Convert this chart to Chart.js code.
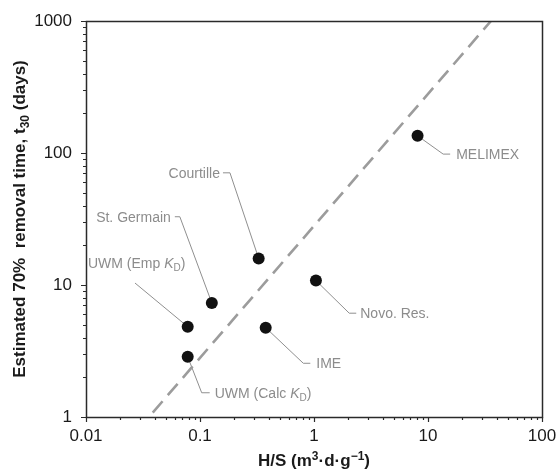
<!DOCTYPE html>
<html>
<head>
<meta charset="utf-8">
<script src="https://cdn.jsdelivr.net/npm/chart.js@4.4.1/dist/chart.umd.min.js"></script>
<style>
  html, body { margin: 0; padding: 0; background: #ffffff; }
  #wrap { position: relative; width: 557px; height: 472px; }
</style>
</head>
<body>
<div id="wrap"><canvas id="c"></canvas></div>
<script>
// ---------------- data ----------------
const siteNames  = ['UWM (Emp KD)', 'UWM (Calc KD)', 'St. Germain', 'Courtille', 'IME', 'Novo. Res.', 'MELIMEX'];
const hsValues   = [0.078, 0.078, 0.127, 0.327, 0.377, 1.04, 8.1];
const t30Values  = [4.83, 2.86, 7.3, 15.9, 4.75, 10.8, 135];
const trendX     = [0.0385, 35.7];
const trendY     = [1.08, 1000];
const xMajorTicks = [0.01, 0.1, 1, 10, 100];
const xTickLabels = ['0.01', '0.1', '1', '10', '100'];
const yMajorTicks = [1, 10, 100, 1000];
const yTickLabels = ['1', '10', '100', '1000'];

// ---------------- styles / layout ----------------
const FONT = '"Liberation Sans", Arial, Helvetica, sans-serif';
const GREY_TXT = '#8c8c8c';
const AXIS_COL = '#2a2a2a';

// leader-line layout in pixels relative to each point
const labelLayout = {
  'UWM (Emp KD)':  { elbow: [-52.7, -43.7], hook: 0, text: [-47, -20], align: 'left' },
  'UWM (Calc KD)': { elbow: [14, 36],       hook: 8,  gap: 5 },
  'St. Germain':   { elbow: [-32, -86.3],   hook: -5, gap: 4 },
  'Courtille':     { elbow: [-28.7, -85.6], hook: -7, gap: 3 },
  'IME':           { elbow: [37.6, 35.6],   hook: 7,  gap: 6 },
  'Novo. Res.':    { elbow: [33.3, 32.6],   hook: 7,  gap: 4 },
  'MELIMEX':       { elbow: [25.6, 18.3],   hook: 7,  gap: 6 }
};

function minorTicks(majors) {
  const out = [];
  for (let i = 0; i < majors.length - 1; i++) {
    for (let k = 2; k <= 9; k++) out.push(+(majors[i] * k).toPrecision(6));
  }
  return out;
}
const xAllTicks = xMajorTicks.concat(minorTicks(xMajorTicks)).sort((a, b) => a - b);
const yAllTicks = yMajorTicks.concat(minorTicks(yMajorTicks)).sort((a, b) => a - b);

// rich text: array of segments {t, sub, sup, italic}
function richSegments(name) {
  const m = name.match(/^(.*?)KD(.*)$/);
  if (m) {
    return [{ t: m[1] }, { t: 'K', italic: true }, { t: 'D', sub: true }, { t: m[2] }];
  }
  return [{ t: name }];
}
function segFont(seg, size, bold) {
  const s = (seg.sub || seg.sup) ? Math.round(size * 0.68) : size;
  return (seg.italic ? 'italic ' : '') + (bold ? 'bold ' : '') + s + 'px ' + FONT;
}
function richWidth(ctx, segs, size, bold) {
  let w = 0;
  segs.forEach(s => { ctx.font = segFont(s, size, bold); w += ctx.measureText(s.t).width; });
  return w;
}
function drawRich(ctx, segs, x, y, size, bold, align) {
  const w = richWidth(ctx, segs, size, bold);
  let cx = align === 'right' ? x - w : (align === 'center' ? x - w / 2 : x);
  ctx.textBaseline = 'alphabetic';
  ctx.textAlign = 'left';
  const base = y + size * 0.36;
  segs.forEach(s => {
    ctx.font = segFont(s, size, bold);
    let yy = base;
    if (s.sub) yy = base + size * 0.22;
    if (s.sup) yy = base - size * 0.38;
    ctx.fillText(s.t, cx, yy);
    cx += ctx.measureText(s.t).width;
  });
}

const customDraw = {
  id: 'customDraw',
  beforeDatasetsDraw(chart) {
    const ctx = chart.ctx;
    const xs = chart.scales.x, ys = chart.scales.y;
    ctx.save();
    siteNames.forEach((name, i) => {
      const lay = labelLayout[name];
      const px = xs.getPixelForValue(hsValues[i]);
      const py = ys.getPixelForValue(t30Values[i]);
      const ex = px + lay.elbow[0], ey = py + lay.elbow[1];
      ctx.strokeStyle = '#8f8f8f';
      ctx.lineWidth = 1;
      ctx.beginPath();
      ctx.moveTo(px, py);
      ctx.lineTo(ex, ey);
      if (lay.hook) ctx.lineTo(ex + lay.hook, ey);
      ctx.stroke();
      ctx.fillStyle = GREY_TXT;
      const segs = richSegments(name);
      if (lay.hook) {
        const dir = Math.sign(lay.hook);
        const tx = ex + lay.hook + dir * lay.gap;
        drawRich(ctx, segs, tx, ey, 14, false, dir > 0 ? 'left' : 'right');
      } else {
        drawRich(ctx, segs, ex + lay.text[0], ey + lay.text[1], 14, false, lay.align);
      }
    });
    ctx.restore();
  },
  afterDraw(chart) {
    const ctx = chart.ctx;
    const a = chart.chartArea;
    const xs = chart.scales.x, ys = chart.scales.y;
    ctx.save();
    ctx.strokeStyle = AXIS_COL;
    ctx.lineWidth = 1.2;
    // ticks
    ctx.beginPath();
    xAllTicks.forEach(v => {
      const p = Math.round(xs.getPixelForValue(v)) + 0.5;
      const len = xMajorTicks.includes(v) ? 5 : 3;
      ctx.moveTo(p, a.bottom);
      ctx.lineTo(p, a.bottom + len);
    });
    yAllTicks.forEach(v => {
      const p = Math.round(ys.getPixelForValue(v)) + 0.5;
      const len = yMajorTicks.includes(v) ? 5 : 3;
      ctx.moveTo(a.left, p);
      ctx.lineTo(a.left - len, p);
    });
    ctx.stroke();
    // frame
    ctx.lineWidth = 1.5;
    ctx.strokeRect(Math.round(a.left) + 0.5, Math.round(a.top) + 0.5,
                   Math.round(a.right - a.left), Math.round(a.bottom - a.top));
    // axis titles
    ctx.fillStyle = '#1a1a1a';
    const xTitle = [{ t: 'H/S (m' }, { t: '3', sup: true }, { t: '\u00B7d\u00B7g' }, { t: '\u22121', sup: true }, { t: ')' }];
    drawRich(ctx, xTitle, (a.left + a.right) / 2, 460, 17, true, 'center');
    const yTitle = [{ t: 'Estimated 70%  removal time, t' }, { t: '30', sub: true }, { t: ' (days)' }];
    ctx.translate(19, (a.top + a.bottom) / 2);
    ctx.rotate(-Math.PI / 2);
    drawRich(ctx, yTitle, 0, 0, 17, true, 'center');
    ctx.restore();
  }
};

const points = hsValues.map((x, i) => ({ x: x, y: t30Values[i] }));
const trend = trendX.map((x, i) => ({ x: x, y: trendY[i] }));

new Chart(document.getElementById('c'), {
  type: 'scatter',
  data: {
    datasets: [
      {
        type: 'line',
        label: 'fit',
        data: trend,
        borderColor: '#9c9c9c',
        borderWidth: 2.6,
        borderDash: [15, 8],
        pointRadius: 0,
        fill: false,
        order: 2
      },
      {
        label: 'sites',
        data: points,
        backgroundColor: '#111111',
        borderColor: '#111111',
        borderWidth: 0,
        pointRadius: 6,
        pointHoverRadius: 6,
        order: 1
      }
    ]
  },
  options: {
    responsive: true,
    maintainAspectRatio: false,
    animation: false,
    events: [],
    layout: { padding: { left: 0, top: 21, right: 15, bottom: 0 } },
    plugins: { legend: { display: false }, tooltip: { enabled: false } },
    scales: {
      x: {
        type: 'logarithmic',
        min: 0.01, max: 100,
        afterBuildTicks(s) { s.ticks = xAllTicks.map(v => ({ value: v })); },
        afterFit(s) { s.height = 55; s.paddingLeft = 0; s.paddingRight = 0; },
        grid: { display: false, drawTicks: false },
        border: { display: false },
        ticks: {
          autoSkip: false, maxRotation: 0, padding: 9,
          color: '#1a1a1a',
          font: { family: FONT, size: 17 },
          callback(v) { const k = xMajorTicks.indexOf(v); return k >= 0 ? xTickLabels[k] : ''; }
        }
      },
      y: {
        type: 'logarithmic',
        min: 1, max: 1000,
        afterBuildTicks(s) { s.ticks = yAllTicks.map(v => ({ value: v })); },
        afterFit(s) { s.width = 86; s.paddingTop = 0; s.paddingBottom = 0; },
        grid: { display: false, drawTicks: false },
        border: { display: false },
        ticks: {
          autoSkip: false, padding: 14,
          color: '#1a1a1a',
          font: { family: FONT, size: 17 },
          callback(v) { const k = yMajorTicks.indexOf(v); return k >= 0 ? yTickLabels[k] : ''; }
        }
      }
    }
  },
  plugins: [customDraw]
});
</script>
</body>
</html>
